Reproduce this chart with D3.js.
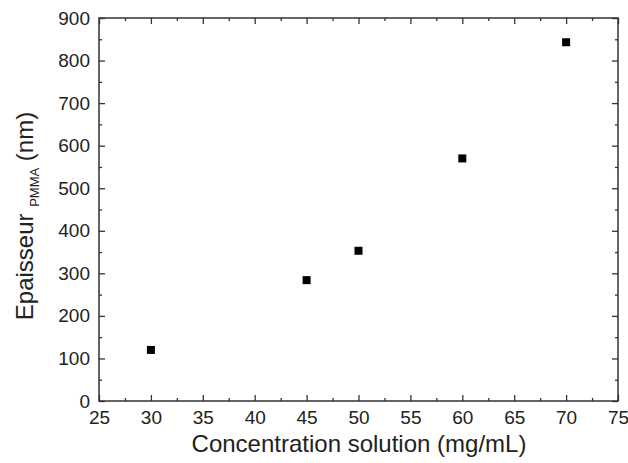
<!DOCTYPE html>
<html>
<head>
<meta charset="utf-8">
<script src="https://cdn.jsdelivr.net/npm/d3@7"></script>
<style>
  body { margin: 0; background: #fff; }
  text { font-family: "Liberation Sans", Arial, sans-serif; fill: #222; }
</style>
</head>
<body>
<svg width="628" height="463"></svg>
<script>
// data
const concentrations = [30, 45, 50, 60, 70]
const thickness = [120, 284, 353, 570, 843]
const xTicks = [25, 30, 35, 40, 45, 50, 55, 60, 65, 70, 75]
const yTicks = [0, 100, 200, 300, 400, 500, 600, 700, 800, 900]

const svg = d3.select('svg')
const mLeft = 99, mRight = 618, mTop = 18, mBottom = 401

const x = d3.scaleLinear().domain([25, 75]).range([mLeft, mRight])
const y = d3.scaleLinear().domain([0, 900]).range([mBottom, mTop])

const xMinor = d3.range(27.5, 75, 5)
const yMinor = d3.range(50, 900, 100)
const axisColor = '#333'

function styleAxis(g) {
    g.select('.domain').remove()
    g.selectAll('line').attr('stroke', axisColor).attr('stroke-width', 1.3)
    g.selectAll('text').style('font-size', '19px').attr('fill', '#222')
}

// bottom axis with labels
svg.append('g')
    .attr('transform', `translate(0,${mBottom})`)
    .call(d3.axisBottom(x).tickValues(xTicks).tickSize(-6).tickPadding(10).tickFormat(d3.format('d')))
    .call(styleAxis)
svg.append('g')
    .attr('transform', `translate(0,${mBottom})`)
    .call(d3.axisBottom(x).tickValues(xMinor).tickSize(-3).tickFormat(''))
    .call(styleAxis)

// top ticks
svg.append('g')
    .attr('transform', `translate(0,${mTop})`)
    .call(d3.axisTop(x).tickValues(xTicks).tickSize(-6).tickFormat(''))
    .call(styleAxis)
svg.append('g')
    .attr('transform', `translate(0,${mTop})`)
    .call(d3.axisTop(x).tickValues(xMinor).tickSize(-3).tickFormat(''))
    .call(styleAxis)

// left axis with labels
svg.append('g')
    .attr('transform', `translate(${mLeft},0)`)
    .call(d3.axisLeft(y).tickValues(yTicks).tickSize(-6).tickPadding(9).tickFormat(d3.format('d')))
    .call(styleAxis)
svg.append('g')
    .attr('transform', `translate(${mLeft},0)`)
    .call(d3.axisLeft(y).tickValues(yMinor).tickSize(-3).tickFormat(''))
    .call(styleAxis)

// right ticks
svg.append('g')
    .attr('transform', `translate(${mRight},0)`)
    .call(d3.axisRight(y).tickValues(yTicks).tickSize(-6).tickFormat(''))
    .call(styleAxis)
svg.append('g')
    .attr('transform', `translate(${mRight},0)`)
    .call(d3.axisRight(y).tickValues(yMinor).tickSize(-3).tickFormat(''))
    .call(styleAxis)

// frame
svg.append('rect')
    .attr('x', mLeft).attr('y', mTop)
    .attr('width', mRight - mLeft).attr('height', mBottom - mTop)
    .attr('fill', 'none').attr('stroke', axisColor).attr('stroke-width', 1.5)

// points
const pts = concentrations.map((c, i) => ({ c: c, t: thickness[i] }))
svg.append('g').selectAll('rect')
    .data(pts)
    .enter()
    .append('rect')
    .attr('x', d => x(d.c) - 4)
    .attr('y', d => y(d.t) - 4)
    .attr('width', 8)
    .attr('height', 8)
    .attr('fill', '#000')

// axis titles
svg.append('text')
    .attr('x', 359)
    .attr('y', 452)
    .attr('text-anchor', 'middle')
    .style('font-size', '24px')
    .text('Concentration solution (mg/mL)')

const yt = svg.append('text')
    .attr('transform', 'translate(33,216) rotate(-90)')
    .attr('text-anchor', 'middle')
    .style('font-size', '24px')
yt.append('tspan').text('Epaisseur ')
yt.append('tspan').attr('dy', 6).style('font-size', '13px').text('PMMA')
yt.append('tspan').attr('dy', -6).text(' (nm)')
</script>
</body>
</html>
